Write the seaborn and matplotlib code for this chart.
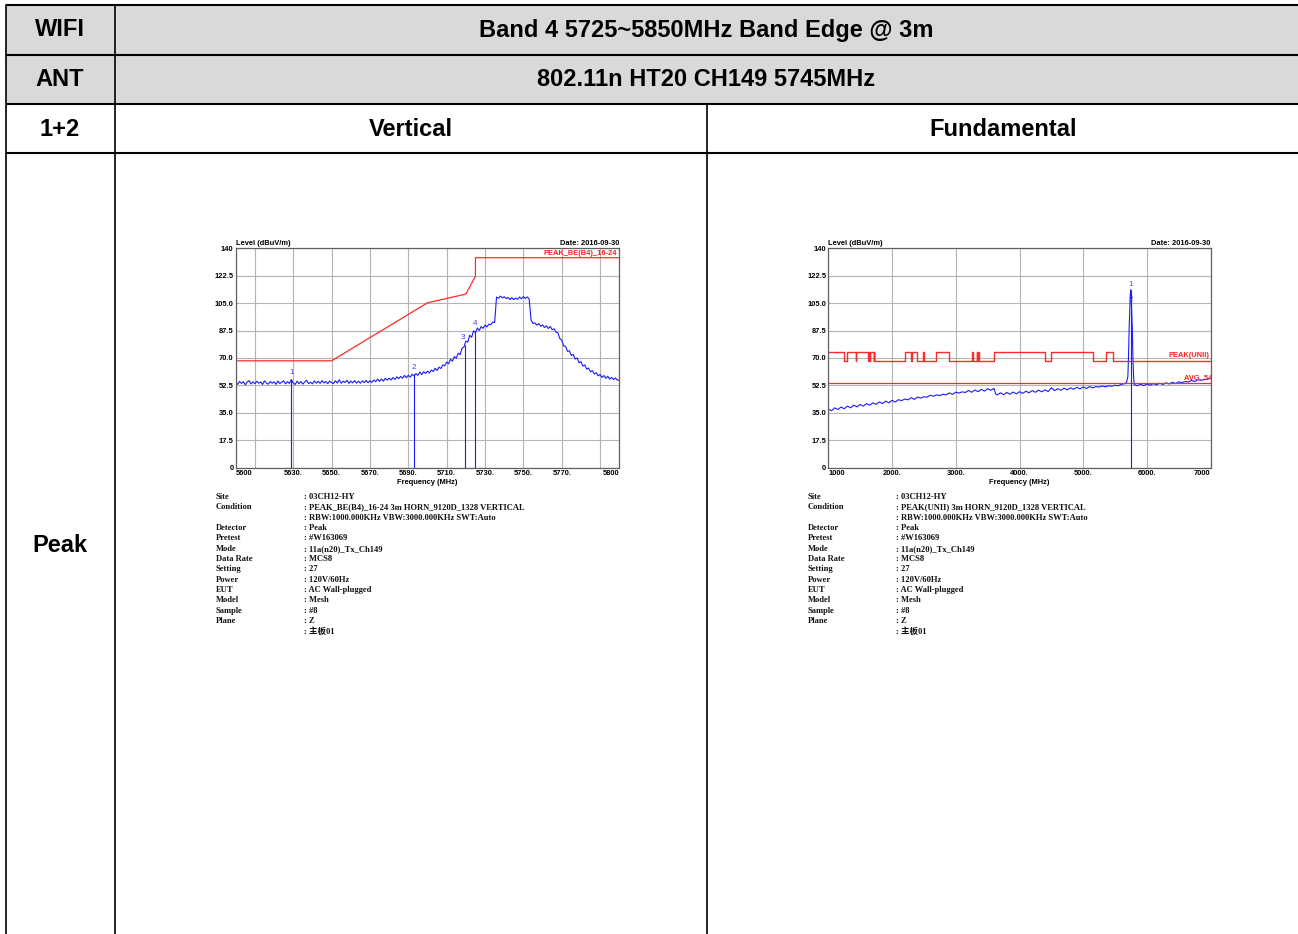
import numpy as np
import pandas as pd
import matplotlib
matplotlib.use("Agg")
import matplotlib.pyplot as plt
import seaborn as sns

sns.set_theme(style="white")
plt.rcParams['font.family'] = ['Liberation Sans', 'DejaVu Sans']
plt.rcParams['text.color'] = 'black'
plt.rcParams['axes.labelcolor'] = 'black'
plt.rcParams['xtick.color'] = 'black'
plt.rcParams['ytick.color'] = 'black'

# ---------------- data ----------------
# Left panel: band edge trace 5600..5800 MHz (1 MHz step)
be_freq = list(range(5600, 5801))
be_level = [
    54.6, 53.2, 55.1, 53.8, 54.9, 52.9, 54.7, 55.6, 53.4, 54.8,
    53.6, 55.2, 53.9, 54.7, 53.1, 55.4, 54.0, 53.3, 55.0, 53.9,
    54.8, 53.2, 55.3, 53.7, 54.6, 55.5, 53.5, 54.9, 53.8, 56.3,
    54.0, 53.1, 55.2, 53.6, 55.0, 53.3, 54.8, 55.7, 53.7, 54.5,
    53.5, 55.4, 53.9, 55.1, 53.8, 55.6, 54.1, 55.0, 53.6, 55.3,
    54.2, 53.7, 55.5, 54.0, 56.1, 53.9, 55.2, 54.4, 55.8, 53.8,
    55.3, 54.1, 55.6, 54.0, 55.2, 53.9, 55.4, 54.3, 55.7, 54.2,
    55.5, 54.4, 56.0, 54.9, 56.5, 55.1, 56.6, 55.2, 57.0, 55.9,
    57.1, 56.0, 57.5, 56.3, 58.0, 56.8, 58.2, 57.1, 58.9, 57.4,
    59.0, 57.8, 59.6, 58.6, 60.1, 58.9, 61.0, 59.4, 61.3, 60.2,
    61.6, 60.5, 62.3, 61.4, 63.5, 62.0, 64.2, 63.3, 65.6, 65.0,
    67.4, 66.3, 69.2, 68.0, 70.9, 69.8, 73.0, 72.1, 76.2, 77.0,
    80.8, 80.1, 84.5, 83.2, 87.3, 86.2, 89.1, 87.6, 90.1, 88.9,
    91.0, 89.9, 91.6, 91.2, 93.0, 92.6, 108.9, 108.1, 109.5, 108.4,
    109.1, 107.9, 108.7, 107.3, 108.5, 107.2, 108.3, 107.4, 108.9, 107.8,
    109.2, 108.0, 109.0, 107.6, 94.2, 92.0, 92.4, 90.9, 92.0, 90.2,
    91.1, 89.4, 90.6, 88.8, 90.1, 88.1, 88.6, 86.5, 86.0, 82.4,
    81.4, 77.6, 77.5, 74.2, 74.6, 71.6, 72.3, 69.3, 70.0, 67.0,
    67.7, 64.8, 65.6, 62.9, 63.6, 61.2, 61.9, 59.8, 60.6, 58.6,
    59.5, 57.6, 58.8, 57.0, 58.4, 56.5, 57.6, 56.3, 57.2, 55.8,
    56.0,
]
be_limit_freq = [5600, 5650, 5700, 5720, 5725, 5725, 5800]
be_limit_level = [68.2, 68.2, 105.2, 110.8, 122.2, 134.0, 134.0]
be_marker_freq = [5629, 5693, 5719.5, 5725]
be_marker_level = [56.0, 59.5, 78.5, 87.5]
be_marker_names = ["1", "2", "3", "4"]
be_xticks = [5600, 5610, 5630, 5650, 5670, 5690, 5710, 5730, 5750, 5770, 5790, 5800]
be_xticklabels = ["5600", "", "5630.", "5650.", "5670.", "5690.", "5710.",
                  "5730.", "5750.", "5770.", "", "5800"]

# Right panel: fundamental sweep 1000..7000 MHz
fu_freq = [
    1000, 1050, 1100, 1150, 1200, 1250, 1300, 1350, 1400, 1450,
    1500, 1550, 1600, 1650, 1700, 1750, 1800, 1850, 1900, 1950,
    2000, 2050, 2100, 2150, 2200, 2250, 2300, 2350, 2400, 2450,
    2500, 2550, 2600, 2650, 2700, 2750, 2800, 2850, 2900, 2950,
    3000, 3050, 3100, 3150, 3200, 3250, 3300, 3350, 3400, 3450,
    3500, 3550, 3600, 3625, 3650, 3700, 3750, 3800, 3850, 3900,
    3950, 4000, 4050, 4100, 4150, 4200, 4250, 4300, 4350, 4400,
    4450, 4500, 4550, 4600, 4650, 4700, 4750, 4800, 4850, 4900,
    4950, 5000, 5050, 5100, 5150, 5200, 5250, 5300, 5350, 5400,
    5450, 5500, 5550, 5600, 5650, 5680, 5700, 5710, 5720, 5730,
    5738, 5745, 5752, 5760, 5770, 5780, 5790, 5800, 5850, 5900,
    5950, 6000, 6050, 6100, 6150, 6200, 6250, 6300, 6350, 6400,
    6450, 6500, 6550, 6600, 6650, 6700, 6750, 6800, 6850, 6900,
    6950, 7000,
]
fu_level = [
    37.4, 36.3, 38.2, 37.1, 38.7, 37.6, 39.3, 38.2, 39.9, 38.8,
    40.4, 39.3, 40.9, 39.9, 41.4, 40.4, 42.0, 40.9, 42.5, 41.4,
    43.0, 41.9, 43.4, 42.8, 43.8, 43.3, 44.7, 43.6, 45.1, 44.4,
    45.3, 45.0, 46.3, 45.6, 46.5, 46.0, 46.9, 46.5, 47.7, 46.8,
    48.2, 47.6, 48.4, 48.0, 49.3, 48.1, 49.6, 48.5, 50.0, 48.9,
    50.4, 49.4, 50.6, 47.2, 46.4, 47.8, 46.6, 48.0, 46.9, 48.3,
    47.1, 48.5, 47.4, 48.8, 47.8, 49.2, 48.1, 49.5, 48.4, 49.7,
    48.6, 51.0, 49.2, 50.4, 49.4, 50.7, 49.7, 51.0, 50.0, 51.3,
    50.3, 51.6, 50.5, 51.8, 51.0, 51.7, 51.5, 52.1, 51.6, 52.3,
    52.0, 52.6, 52.3, 53.2, 53.6, 54.5, 58.0, 70.0, 88.0, 100.0,
    110.0, 113.5, 110.0, 100.0, 88.0, 70.0, 58.0, 53.0, 52.3, 53.3,
    52.4, 53.4, 52.6, 53.7, 52.9, 53.9, 53.1, 54.2, 53.4, 54.5,
    53.7, 54.8, 54.3, 55.0, 54.7, 55.7, 55.0, 56.1, 55.8, 56.3,
    56.4, 57.2,
]
fu_limit_edges = [1000, 1240, 1300, 1427, 1435, 1626.5, 1645.5, 1646.5, 1660, 1710,
                  1718.8, 1722.2, 2200, 2300, 2310, 2390, 2483.5, 2500, 2690, 2900,
                  3260, 3267, 3332, 3339, 3345.8, 3358, 3600, 4400, 4500, 5150,
                  5350, 5460, 7000]
fu_limit_levels = [74.0, 68.2, 74.0, 68.2, 74.0, 68.2, 74.0, 68.2, 74.0, 68.2,
                   74.0, 68.2, 74.0, 68.2, 74.0, 68.2, 74.0, 68.2, 74.0, 68.2,
                   74.0, 68.2, 74.0, 68.2, 74.0, 68.2, 74.0, 68.2, 74.0, 68.2,
                   74.0, 68.2, 68.2]
fu_avg_limit = 54.0
fu_marker_freq = [5745, 5745]
fu_marker_level = [113.5, 104.0]
fu_marker_names = ["1", "2"]
fu_xticks = [1000, 2000, 3000, 4000, 5000, 6000, 7000]
fu_xticklabels = ["1000", "2000.", "3000.", "4000.", "5000.", "6000.", "7000"]

yticks = [0, 17.5, 35.0, 52.5, 70.0, 87.5, 105.0, 122.5, 140]
yticklabels = ["0", "17.5", "35.0", "52.5", "70.0", "87.5", "105.0", "122.5", "140"]

info_labels = ["Site", "Condition", "", "Detector", "Pretest", "Mode", "Data Rate",
               "Setting", "Power", "EUT", "Model", "Sample", "Plane", ""]
info_left = [": 03CH12-HY", ": PEAK_BE(B4)_16-24 3m HORN_9120D_1328 VERTICAL",
             ": RBW:1000.000KHz VBW:3000.000KHz SWT:Auto", ": Peak", ": #W163069",
             ": 11a(n20)_Tx_Ch149", ": MCS8", ": 27", ": 120V/60Hz", ": AC Wall-plugged",
             ": Mesh", ": #8", ": Z", ": 主板01"]
info_right = [": 03CH12-HY", ": PEAK(UNII) 3m HORN_9120D_1328 VERTICAL",
              ": RBW:1000.000KHz VBW:3000.000KHz SWT:Auto", ": Peak", ": #W163069",
              ": 11a(n20)_Tx_Ch149", ": MCS8", ": 27", ": 120V/60Hz", ": AC Wall-plugged",
              ": Mesh", ": #8", ": Z", ": 主板01"]

# ---------------- figure ----------------
W, H = 1298, 934
fig = plt.figure(figsize=(W / 100, H / 100), dpi=100)
fig.patch.set_facecolor("white")

bg = fig.add_axes([0, 0, 1, 1])
bg.set_xlim(0, W)
bg.set_ylim(H, 0)
bg.axis("off")

# header shading
bg.add_patch(plt.Rectangle((6, 5), W - 6, 99, facecolor="#d9d9d9", edgecolor="none"))
for yy in [5, 55, 104, 153]:
    bg.plot([6, W], [yy, yy], color="black", lw=1.5, solid_capstyle="butt")
bg.plot([6, 6], [5, H], color="black", lw=1.2)
bg.plot([115, 115], [5, H], color="black", lw=1.2)
bg.plot([707, 707], [104, H], color="black", lw=1.2)

hfs = 17
hkw = dict(ha="center", va="center", fontsize=hfs, fontweight="bold", color="black")
bg.text(60, 30, "WIFI", **hkw)
bg.text(706, 30, "Band 4 5725~5850MHz Band Edge @ 3m", **hkw)
bg.text(60, 80, "ANT", **hkw)
bg.text(706, 80, "802.11n HT20 CH149 5745MHz", **hkw)
bg.text(60, 129, "1+2", **hkw)
bg.text(411, 129, "Vertical", **hkw)
bg.text(1003, 129, "Fundamental", **hkw)
bg.text(60, 545, "Peak", **hkw)

# info blocks
serif = ["Liberation Serif", "Noto Sans CJK SC", "DejaVu Serif"]
ifs = 6.15
ikw = dict(ha="left", va="center", fontsize=ifs, family=serif, fontweight="bold", color="#111111")
for i, (lab, lv, rv) in enumerate(zip(info_labels, info_left, info_right)):
    yy = 497 + i * 10.35
    bg.text(216, yy, lab, **ikw)
    bg.text(304, yy, lv, **ikw)
    bg.text(808, yy, lab, **ikw)
    bg.text(896, yy, rv, **ikw)

TR = "#1a1aff"
LIM = "#ff2a2a"
GRID = "#b4b4b4"
tfs = 5.4


def make_axes(x0, x1, y0, y1):
    ax = fig.add_axes([x0 / W, 1 - y1 / H, (x1 - x0) / W, (y1 - y0) / H])
    ax.set_facecolor("white")
    for s in ax.spines.values():
        s.set_color("#606060")
        s.set_linewidth(0.9)
    ax.set_ylim(0, 140)
    ax.set_yticks(yticks)
    ax.set_yticklabels(yticklabels)
    ax.tick_params(length=0, pad=1.5, labelsize=tfs)
    ax.grid(True, color=GRID, lw=0.8)
    ax.set_axisbelow(True)
    return ax


def finish_xticks(ax, ticks, labels):
    ax.set_xticks(ticks)
    ax.set_xticklabels(labels, fontsize=tfs, fontweight="bold")
    tl = ax.get_xticklabels()
    tl[0].set_ha("left")
    tl[-1].set_ha("right")
    for t in ax.get_yticklabels():
        t.set_fontweight("bold")
        t.set_fontsize(tfs)
    ax.set_xlabel("Frequency (MHz)", fontsize=tfs, fontweight="bold", labelpad=1.5)
    ax.set_ylabel("")
    ax.text(0.0, 1.004, "Level (dBuV/m)", transform=ax.transAxes, ha="left", va="bottom",
            fontsize=tfs, fontweight="bold")
    ax.text(1.0, 1.004, "Date: 2016-09-30", transform=ax.transAxes, ha="right", va="bottom",
            fontsize=tfs, fontweight="bold")


# ---- left panel ----
axL = make_axes(235.7, 619.3, 248.3, 467.7)
dfL = pd.DataFrame({"f": be_freq, "v": be_level})
sns.lineplot(data=dfL, x="f", y="v", ax=axL, color=TR, lw=0.8, estimator=None, sort=False)
dfLL = pd.DataFrame({"f": be_limit_freq, "v": be_limit_level})
sns.lineplot(data=dfLL, x="f", y="v", ax=axL, color=LIM, lw=0.9, estimator=None, sort=False)
axL.vlines(be_marker_freq, 0, be_marker_level, color=TR, lw=0.8)
for f, v, n in zip(be_marker_freq, be_marker_level, be_marker_names):
    axL.text(f, v + 2.2, n, ha="right" if n == "3" else "center", va="bottom",
             fontsize=5.8, color="#4444ff")
axL.text(0.995, 136.4, "PEAK_BE(B4)_16-24", transform=axL.get_yaxis_transform(),
         ha="right", va="center", fontsize=tfs, fontweight="bold", color="#ff2020")
axL.set_xlim(5600, 5800)
axL.set_ylim(0, 140)
finish_xticks(axL, be_xticks, be_xticklabels)

# ---- right panel ----
axR = make_axes(828.3, 1210.7, 248.3, 467.7)
dfR = pd.DataFrame({"f": fu_freq, "v": fu_level})
sns.lineplot(data=dfR, x="f", y="v", ax=axR, color=TR, lw=0.8, estimator=None, sort=False)
dfRL = pd.DataFrame({"f": fu_limit_edges, "v": fu_limit_levels})
sns.lineplot(data=dfRL, x="f", y="v", ax=axR, color=LIM, lw=1.0, estimator=None,
             sort=False, drawstyle="steps-post")
axR.axhline(fu_avg_limit, color=LIM, lw=0.9)
axR.vlines(fu_marker_freq[:1], 0, fu_marker_level[:1], color=TR, lw=0.8)
for f, v, n in zip(fu_marker_freq, fu_marker_level, fu_marker_names):
    axR.text(f, v + 1.0, n, ha="center", va="bottom", fontsize=5.8, color="#4444ff")
axR.text(0.998, 71.5, "PEAK(UNII)", transform=axR.get_yaxis_transform(),
         ha="right", va="center", fontsize=tfs, fontweight="bold", color="#ff2020")
axR.text(1.004, 56.6, "AVG. 54", transform=axR.get_yaxis_transform(),
         ha="right", va="center", fontsize=tfs, fontweight="bold", color="#ff2020", clip_on=True)
axR.set_xlim(1000, 7000)
axR.set_ylim(0, 140)
finish_xticks(axR, fu_xticks, fu_xticklabels)

for ax in (axL, axR):
    lg = ax.get_legend()
    if lg is not None:
        lg.remove()

fig.savefig("out.png", dpi=100, facecolor="white")
